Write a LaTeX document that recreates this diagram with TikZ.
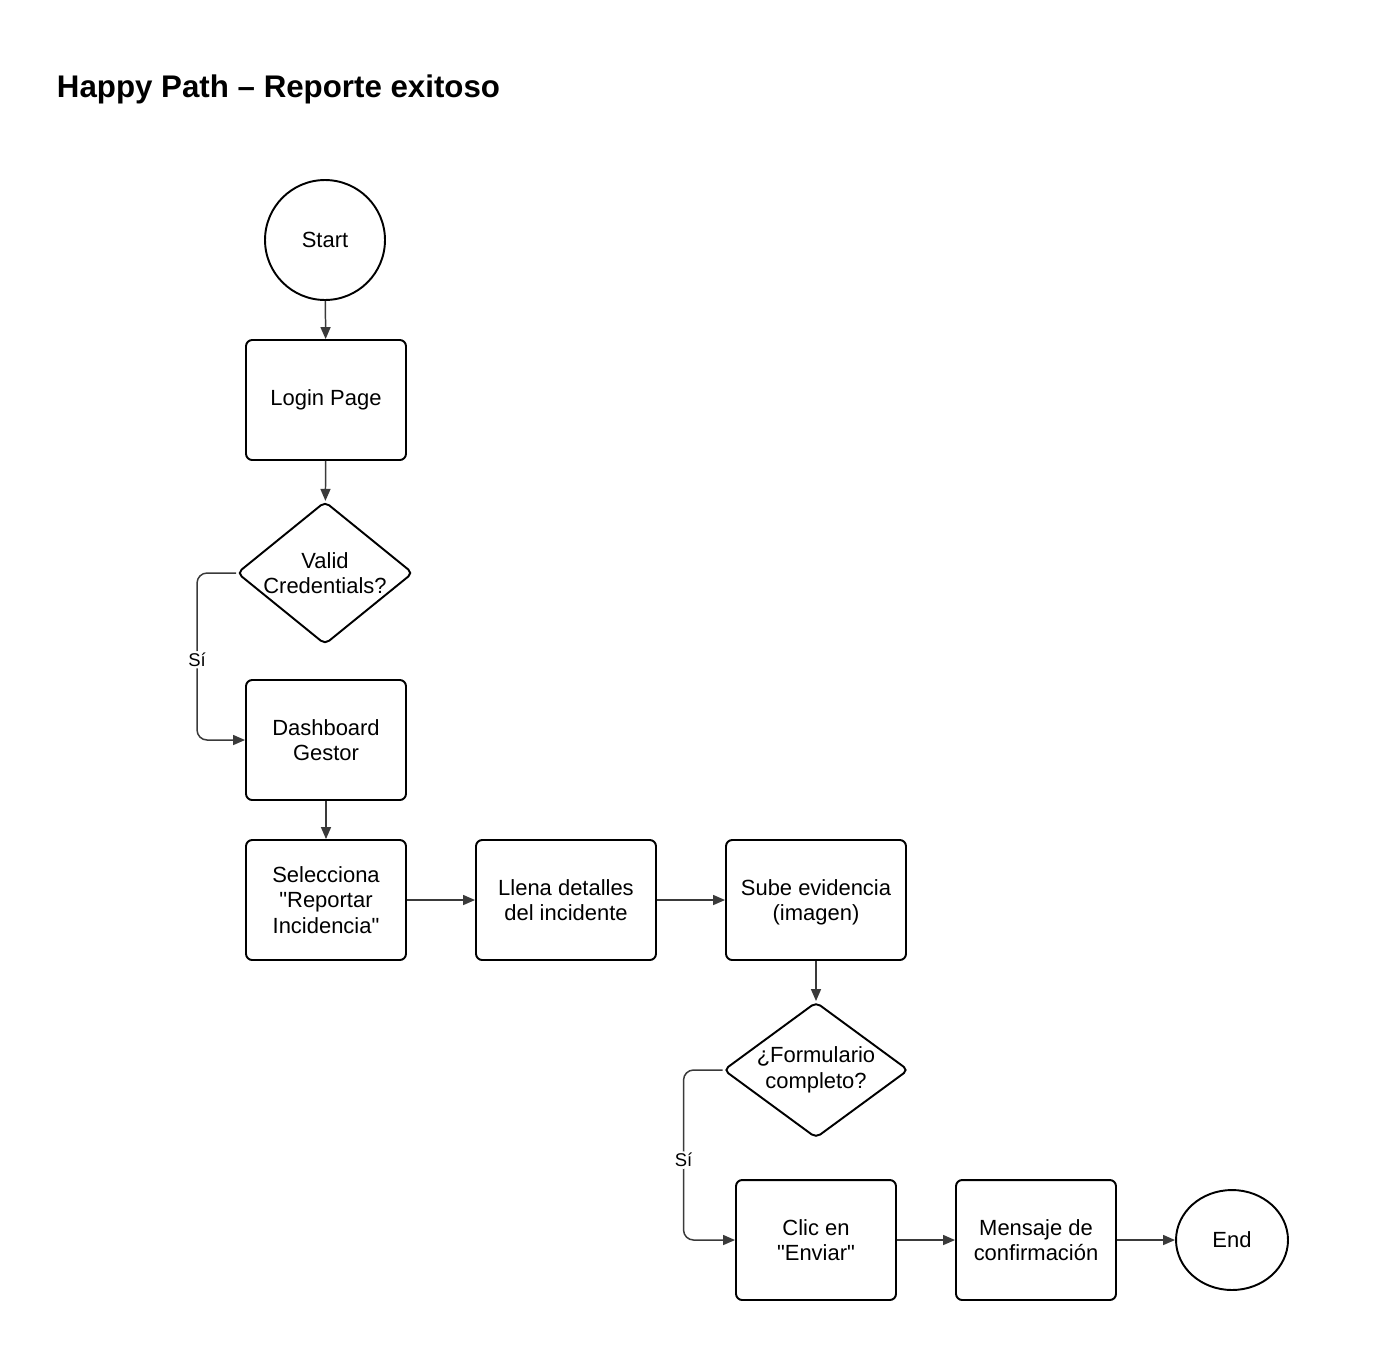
\documentclass[tikz,border=0pt]{standalone}
\usepackage{fontspec}
\setmainfont{Liberation Sans}[Ligatures=TeXOff]
\usetikzlibrary{shapes.geometric,arrows.meta}
\definecolor{edgegray}{HTML}{3A3A3A}

\begin{document}
\begin{tikzpicture}[x=0.02cm,y=-0.02cm,
	every node/.style={draw=black,line width=1.1pt,align=center,font=\fontsize{12.5}{14.5}\selectfont},
	box/.style={rectangle,rounded corners=3.5pt,minimum width=3.2cm,minimum height=2.4cm,inner sep=0pt},
	dec/.style={diamond,rounded corners=3pt,aspect=1.23,minimum width=3.52cm,minimum height=2.86cm,inner sep=-3pt},
	arr/.style={draw=edgegray,line width=0.85pt,-{Triangle[length=0.24cm,width=0.2cm]}},
	lbl/.style={draw=none,fill=white,inner sep=1pt,font=\fontsize{10.5}{12}\selectfont}]
			\useasboundingbox (0,0) rectangle (1375,1360);

			%title
			\node [draw=none,inner sep=0pt,anchor=base west,font=\fontsize{17.8}{20}\selectfont\bfseries] (title) at (56,97) {Happy Path – Reporte exitoso};

			%left column
			\node [circle,minimum size=2.4cm] (start) at (325,240) {Start};
			\node [box] (login) at (326,400) {Login Page};
			\node [dec] (valid) at (325,573) {Valid\\Credentials?};
			\node [box] (dash) at (326,740) {Dashboard\\Gestor};
			\node [box] (sel) at (326,900) {Selecciona\\"Reportar\\Incidencia"};

			%middle row
			\node [box,minimum width=3.6cm] (llena) at (566,900) {Llena detalles\\del incidente};
			\node [box,minimum width=3.6cm] (sube) at (816,900) {Sube evidencia\\\smash{(imagen)}};
			\node [dec,aspect=1.36,minimum width=3.7cm,minimum height=2.72cm] (form) at (816,1070) {¿Formulario\\completo?};

			%bottom row
			\node [box] (clic) at (816,1240) {Clic en\\"Enviar"};
			\node [box] (msg) at (1036,1240) {Mensaje de\\confirmación};
			\node [ellipse,minimum width=2.24cm,minimum height=2cm,inner sep=0pt] (fin) at (1232,1240) {End};

			%edges
			\draw[arr] (start) -- (login);
			\draw[arr] (login) -- (valid);
			\draw[arr,rounded corners=0.2cm] (valid.west) -- ++(-39,0) |- node[lbl,pos=0.26] {Sí} (dash.west);
			\draw[arr] (dash) -- (sel);
			\draw[arr] (sel) -- (llena);
			\draw[arr] (llena) -- (sube);
			\draw[arr] (sube) -- (form);
			\draw[arr,rounded corners=0.2cm] (form.west) -- ++(-39,0) |- node[lbl,pos=0.265] {Sí} (clic.west);
			\draw[arr] (clic) -- (msg);
			\draw[arr] (msg) -- (fin);
		\end{tikzpicture}
\end{document}
